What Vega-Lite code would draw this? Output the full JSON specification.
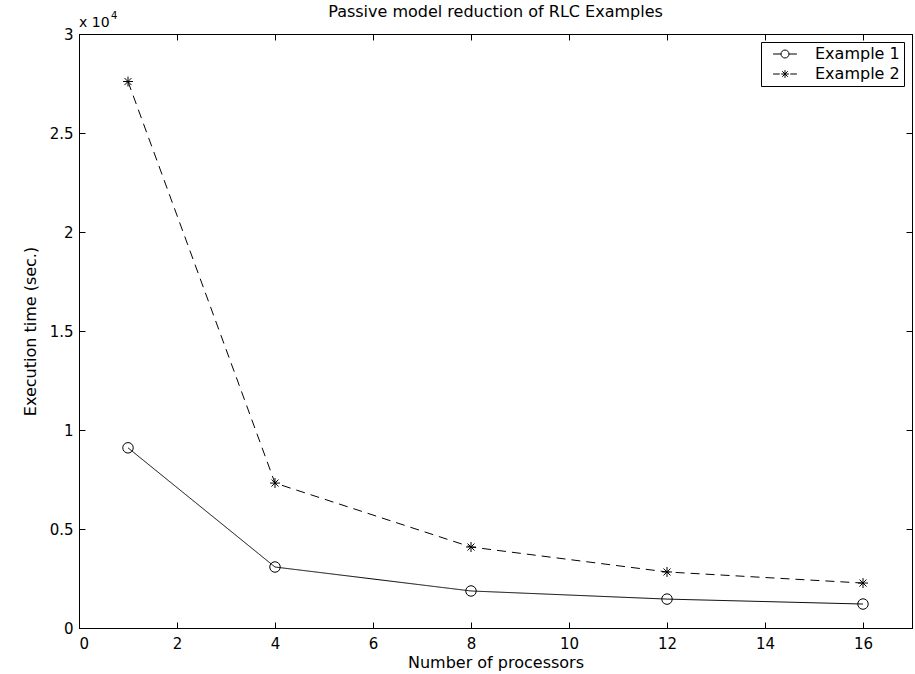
{
  "$schema": "https://vega.github.io/schema/vega-lite/v6.json",
  "width": 833,
  "height": 594,
  "autosize": {"type": "none"},
  "padding": {"left": 79, "top": 34, "right": 3, "bottom": 46},
  "background": "white",
  "title": {"text": "Passive model reduction of RLC Examples", "fontSize": 16, "fontWeight": "normal", "color": "black", "offset": -9, "font": "DejaVu Sans"},
  "config": {
    "font": "DejaVu Sans",
    "view": {"stroke": "black", "strokeWidth": 1},
    "axis": {"domainColor": "black", "domainWidth": 1, "tickColor": "black", "tickWidth": 1, "labelColor": "black", "labelFontSize": 15, "titleColor": "black", "titleFontSize": 16, "titleFontWeight": "normal", "grid": false, "labelFont": "DejaVu Sans", "titleFont": "DejaVu Sans"},
    "legend": {"labelFontSize": 16, "labelColor": "black", "labelFont": "DejaVu Sans", "strokeColor": "black", "fillColor": "white", "padding": 4, "offset": 8, "symbolSize": 196, "symbolOffset": 12, "symbolStrokeColor": "black", "symbolStrokeWidth": 1, "labelOffset": 22, "rowPadding": 4}
  },
  "data": {"values": [
    {"processors": 1, "time": 9100, "series": "Example 1"},
    {"processors": 4, "time": 3080, "series": "Example 1"},
    {"processors": 8, "time": 1870, "series": "Example 1"},
    {"processors": 12, "time": 1460, "series": "Example 1"},
    {"processors": 16, "time": 1210, "series": "Example 1"},
    {"processors": 1, "time": 27600, "series": "Example 2"},
    {"processors": 4, "time": 7320, "series": "Example 2"},
    {"processors": 8, "time": 4090, "series": "Example 2"},
    {"processors": 12, "time": 2830, "series": "Example 2"},
    {"processors": 16, "time": 2270, "series": "Example 2"}
  ]},
  "resolve": {"scale": {"shape": "independent"}, "axis": {"x": "independent", "y": "independent"}},
  "layer": [
    {
      "mark": {"type": "line", "color": "black", "strokeWidth": 1},
      "encoding": {
        "x": {"field": "processors", "type": "quantitative", "scale": {"domain": [0, 17], "nice": false, "zero": false},
              "axis": {"orient": "bottom", "values": [0, 2, 4, 6, 8, 10, 12, 14, 16], "tickSize": -6, "labelPadding": 14, "title": "Number of processors", "titlePadding": 3}},
        "y": {"field": "time", "type": "quantitative", "scale": {"domain": [0, 30000], "nice": false},
              "axis": {"orient": "left", "values": [0, 5000, 10000, 15000, 20000, 25000, 30000], "labelExpr": "datum.value / 10000 + ''", "tickSize": -6, "labelPadding": 12, "title": "Execution time (sec.)", "titlePadding": 11}},
        "detail": {"field": "series"},
        "strokeDash": {"field": "series", "type": "nominal", "scale": {"domain": ["Example 1", "Example 2"], "range": [[1, 0], [9, 6]]}, "legend": null}
      }
    },
    {
      "mark": {"type": "point", "filled": false, "color": "black", "strokeWidth": 1, "size": 110, "opacity": 1},
      "encoding": {
        "x": {"field": "processors", "type": "quantitative", "scale": {"domain": [0, 17], "nice": false, "zero": false},
              "axis": {"orient": "top", "values": [0, 2, 4, 6, 8, 10, 12, 14, 16], "tickSize": -6, "labels": false, "title": null}},
        "y": {"field": "time", "type": "quantitative", "scale": {"domain": [0, 30000], "nice": false},
              "axis": {"orient": "right", "values": [0, 5000, 10000, 15000, 20000, 25000, 30000], "tickSize": -6, "labels": false, "title": null}},
        "shape": {"field": "series", "type": "nominal", "legend": null,
                  "scale": {"domain": ["Example 1", "Example 2"], "range": ["M1,0A1,1,0,1,1,-1,0A1,1,0,1,1,1,0", "M-0.95,0H0.95M0,-0.95V0.95M-0.67,-0.67L0.67,0.67M-0.67,0.67L0.67,-0.67"]}}
      }
    },
    {
      "transform": [{"filter": "false"}],
      "mark": {"type": "point", "filled": false, "color": "black", "strokeWidth": 1, "opacity": 1},
      "encoding": {
        "shape": {"field": "series", "type": "nominal",
                  "scale": {"domain": ["Example 1", "Example 2"], "range": ["M-1.7,0H-0.57M0.57,0H1.7M0.57,0A0.57,0.57,0,1,1,-0.57,0A0.57,0.57,0,1,1,0.57,0", "M-1.7,0H-0.75M0.75,0H1.7M-0.55,0H0.55M0,-0.55V0.55M-0.39,-0.39L0.39,0.39M-0.39,0.39L0.39,-0.39"]},
                  "legend": {"title": null, "orient": "top-right"}}
      }
    },
    {
      "data": {"values": [{"processors": 0, "time": 30000, "label": "x 10", "sup": "4"}]},
      "mark": {"type": "text", "align": "left", "baseline": "alphabetic", "dy": -7, "fontSize": 14, "color": "black"},
      "encoding": {
        "x": {"field": "processors", "type": "quantitative", "scale": {"domain": [0, 17], "nice": false, "zero": false}, "axis": null},
        "y": {"field": "time", "type": "quantitative", "scale": {"domain": [0, 30000], "nice": false}, "axis": null},
        "text": {"field": "label"}
      }
    },
    {
      "data": {"values": [{"processors": 0, "time": 30000, "label": "x 10", "sup": "4"}]},
      "mark": {"type": "text", "align": "left", "baseline": "alphabetic", "dx": 32, "dy": -15, "fontSize": 10, "color": "black"},
      "encoding": {
        "x": {"field": "processors", "type": "quantitative", "scale": {"domain": [0, 17], "nice": false, "zero": false}, "axis": null},
        "y": {"field": "time", "type": "quantitative", "scale": {"domain": [0, 30000], "nice": false}, "axis": null},
        "text": {"field": "sup"}
      }
    }
  ]
}
